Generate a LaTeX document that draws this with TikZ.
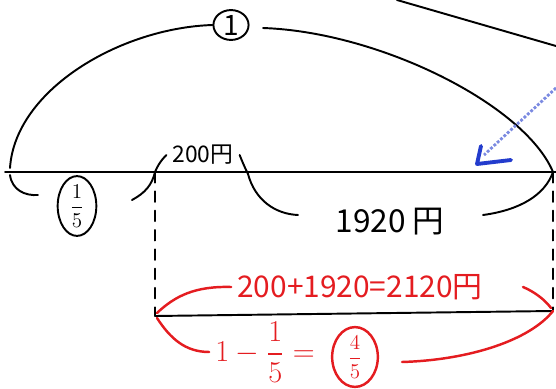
\documentclass[tikz,border=0pt]{standalone}
\usepackage{amsmath}
\usepackage{fontspec}
\newfontfamily\cjk{Noto Sans CJK JP}
\usetikzlibrary{arrows.meta,shapes.geometric}
\definecolor{RojoNota}{RGB}{228,28,32}
\definecolor{AzulNota}{RGB}{35,60,205}

\begin{document}
\begin{tikzpicture}[>=Latex,x=0.02cm,y=-0.02cm,
  trazo/.style={line width=1.1pt,line cap=round},
  rojo/.style={trazo,RojoNota,line width=1.4pt},
  marco/.style={draw,ellipse,line width=1.1pt,inner sep=0pt},
  texto/.style={font=\cjk\fontsize{18}{20}\selectfont}]
  \useasboundingbox (0,0) rectangle (556,389);
  % linea principal y la de abajo
  \coordinate (izq) at (5,172);
  \coordinate (a) at (155,172);
  \coordinate (b) at (248,174);
  \coordinate (der) at (553,172);
  \coordinate (fin) at (556,172);
  \coordinate (a2) at (155,316);
  \coordinate (der2) at (553,311);
  \draw[trazo] (izq) -- (fin);
  \draw[trazo] (a2) -- (der2);
  \draw[trazo,dashed,dash pattern=on 6pt off 5pt] (a) -- (a2);
  \draw[trazo,dashed,dash pattern=on 6pt off 5pt] (der) -- (der2);
  % el total
  \node[marco,minimum width=20pt,minimum height=17pt,font=\cjk\fontsize{16}{17}\selectfont] (uno) at (231,25) {1};
  \draw[trazo] (10,168) .. controls (15,90) and (120,28) .. (uno.west);
  \draw[trazo] (263,28) .. controls (380,32) and (525,105) .. (der);
  \draw[trazo] (397,0) -- (556,46);
  % flecha azul
  \coordinate (azul1) at (556,88);
  \coordinate (azul2) at (484,155);
  \draw[AzulNota!60,line width=1.6pt,densely dotted] (azul1) -- (azul2);
  \draw[AzulNota,line width=2.2pt,line cap=round,line join=round] (481,146) -- (477,164) -- (511,160);
  % 1/5
  \node[marco,minimum width=22pt,minimum height=28pt,font=\large] (quinto) at (77,206) {$\dfrac{1}{5}$};
  \draw[trazo] (10,175) .. controls (12,190) and (25,196) .. (38,195);
  \draw[trazo] (132,200) .. controls (145,193) and (152,185) .. (a);
  % 200円
  \node[font=\cjk\fontsize{13}{15}\selectfont] (doscientos) at (203,155) {200円};
  \draw[trazo] (a) .. controls (160,160) and (166,156) .. (doscientos.west);
  \draw[trazo] (doscientos.east) .. controls (242,161) and (245,168) .. (b);
  % 1920円
  \node[texto] (resto) at (390,222) {1920 円};
  \draw[trazo] (b) .. controls (255,200) and (275,214) .. (298,215);
  \draw[trazo] (483,215) .. controls (520,210) and (545,195) .. (der);
  % en rojo
  \coordinate (suma der) at (523,287);
  \coordinate (cuatro der) at (402,362);
  \node[RojoNota,font=\cjk\fontsize{17}{19}\selectfont] (suma) at (360,287) {200+1920=2120円};
  \draw[rojo] (157,313) .. controls (175,296) and (195,286) .. (suma.west);
  \draw[rojo] (suma der) .. controls (535,292) and (545,300) .. (551,308);
  \node[RojoNota,font=\fontsize{18}{20}\selectfont] (resta) at (265,352) {$1-\dfrac{1}{5}=$};
  \node[marco,RojoNota,line width=1.4pt,minimum width=26pt,minimum height=26pt,font=\fontsize{12}{14}\selectfont] (cuatro) at (355,357) {$\dfrac{4}{5}$};
  \draw[rojo] (157,318) .. controls (170,338) and (185,352) .. (resta.west);
  \draw[rojo] (cuatro der) .. controls (470,360) and (530,340) .. (der2);
\end{tikzpicture}
\end{document}
